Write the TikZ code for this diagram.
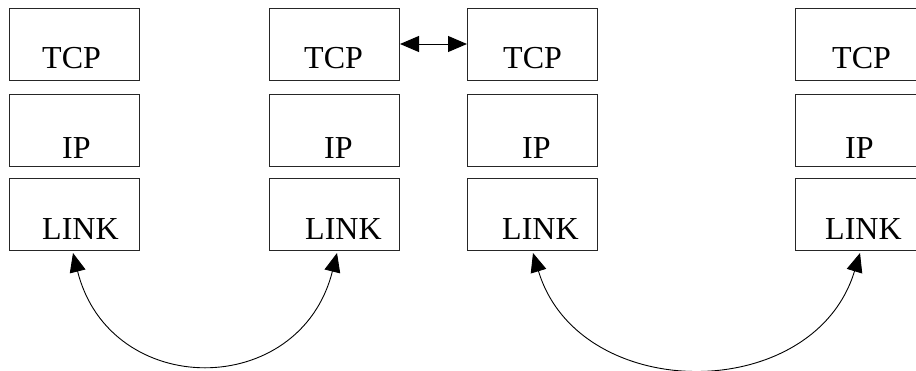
\documentclass[tikz,border=0pt]{standalone}
\usepackage{fontspec}
\setmainfont{Liberation Serif}
\usetikzlibrary{arrows.meta}
\begin{document}
\begin{tikzpicture}[x=1pt,y=-1pt,
  layer/.style={draw=black!85,line width=1pt,rectangle,minimum width=130pt,minimum height=72pt,inner sep=0pt},
  lbl/.style={anchor=base west,inner sep=0pt,font=\fontsize{32}{33}\selectfont},
  link/.style={line width=0.9pt,{Triangle[length=19pt,width=16pt]}-{Triangle[length=19pt,width=16pt]}},
  peer/.style={line width=1pt,{Triangle[length=19pt,width=16pt]}-{Triangle[length=19pt,width=16pt]}}]
\useasboundingbox (0,0) rectangle (916,370);
\clip (0,0) rectangle (916,370);
% stacks
\foreach \n/\x in {1/74,2/334.5,3/532.5,4/860}{
  \node[layer] (t\n) at (\x,44) {};
  \node[layer] (i\n) at (\x,130) {};
  \node[layer] (l\n) at (\x,214) {};
}
% labels
\node[lbl] at (42,68) {TCP};
\node[lbl] at (62,158) {IP};
\node[lbl] at (42,239) {LINK};
\node[lbl] at (304,68) {TCP};
\node[lbl] at (324,158) {IP};
\node[lbl] at (305,239) {LINK};
\node[lbl] at (503,68) {TCP};
\node[lbl] at (522,158) {IP};
\node[lbl] at (502,239) {LINK};
\node[lbl] at (832,68) {TCP};
\node[lbl] at (845,158) {IP};
\node[lbl] at (825,239) {LINK};
% peer connection
\draw[peer] (t2.east) -- (t3.west);
% link connections
\coordinate (a1) at (73,253);
\coordinate (a2) at (337,253);
\coordinate (b1) at (533,253);
\coordinate (b2) at (860,253);
\draw[link] (a1) .. controls (110,400) and (300,400) .. (a2);
\draw[link] (b1) .. controls (579,405) and (814,405) .. (b2);
\end{tikzpicture}
\end{document}
